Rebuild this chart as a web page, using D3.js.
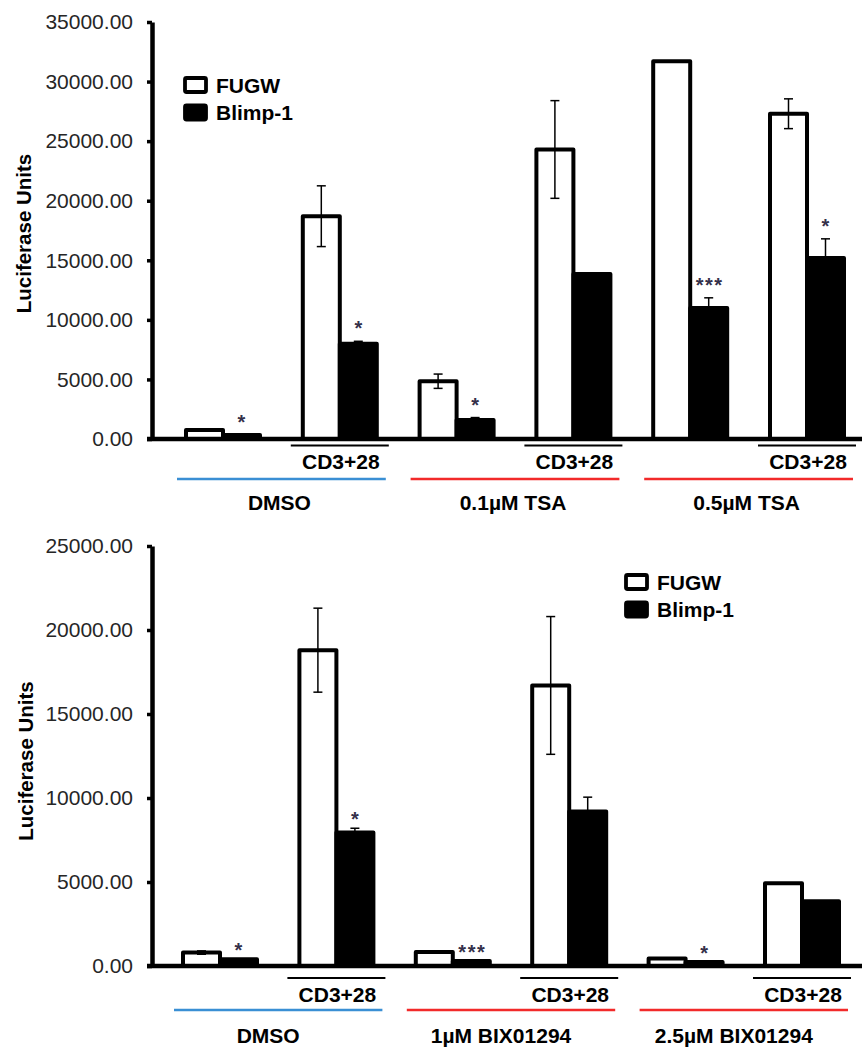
<!DOCTYPE html>
<html>
<head>
<meta charset="utf-8">
<script src="https://cdn.jsdelivr.net/npm/d3@7"></script>
<style>
  html, body { margin: 0; padding: 0; background: #fff; }
  svg { display: block; }
  text { font-family: "Liberation Sans", Arial, sans-serif; }
</style>
</head>
<body>
<svg id="chart" width="862" height="1051"></svg>
<script>
// ---------------- DATA ----------------
const seriesNames = ["FUGW", "Blimp-1"];
const stimLabel = "CD3+28";
const yTitle = "Luciferase Units";

// Top panel (TSA)
const topPairs = ["DMSO", "DMSO CD3+28", "0.1µM TSA", "0.1µM TSA CD3+28", "0.5µM TSA", "0.5µM TSA CD3+28"];
const topFUGW = [750, 18700, 4850, 24300, 31700, 27300];
const topFUGWErr = [0, 2550, 600, 4100, 0, 1250];
const topBlimp = [330, 8000, 1600, 13850, 11000, 15200];
const topBlimpErr = [0, 200, 200, 0, 850, 1600];
const topSig = ["*", "*", "*", "", "***", "*"];
const topTreatments = ["DMSO", "0.1µM TSA", "0.5µM TSA"];
const topTicks = [0, 5000, 10000, 15000, 20000, 25000, 30000, 35000];

// Bottom panel (BIX01294)
const bottomPairs = ["DMSO", "DMSO CD3+28", "1µM BIX01294", "1µM BIX01294 CD3+28", "2.5µM BIX01294", "2.5µM BIX01294 CD3+28"];
const bottomFUGW = [800, 18800, 840, 16700, 440, 4930];
const bottomFUGWErr = [100, 2500, 0, 4100, 0, 0];
const bottomBlimp = [400, 7950, 300, 9200, 240, 3850];
const bottomBlimpErr = [0, 250, 0, 850, 0, 0];
const bottomSig = ["*", "*", "***", "", "*", ""];
const bottomTreatments = ["DMSO", "1µM BIX01294", "2.5µM BIX01294"];
const bottomTicks = [0, 5000, 10000, 15000, 20000, 25000];

const treatmentColors = ["#3a8fd4", "#f22a2a", "#f22a2a"];

// ---------------- DRAW ----------------
const svg = d3.select("#chart");
const FONT = 21;

function drawPanel(cfg) {
  const g = svg.append("g");
  const x = d3.scalePoint().domain(cfg.pairs).range(cfg.xRange);
  const y = d3.scaleLinear().domain([0, cfg.yMax]).range(cfg.yRange);
  const bw = 37;

  // y axis
  const axis = d3.axisLeft(y).tickValues(cfg.ticks).tickFormat(d3.format(".2f"))
    .tickSizeInner(5).tickSizeOuter(0).tickPadding(14);
  const ag = g.append("g").attr("transform", `translate(${cfg.axisX},0)`).call(axis);
  ag.select(".domain").attr("stroke", "#000").attr("stroke-width", 4.5);
  ag.selectAll(".tick line").attr("stroke", "#000").attr("stroke-width", 3.5);
  ag.selectAll(".tick text").attr("font-size", FONT).attr("fill", "#262626")
    .style("font-family", '"Liberation Sans", Arial, sans-serif');

  // FUGW bars
  g.selectAll("rect.fugw").data(cfg.pairs).join("rect")
    .attr("x", d => x(d) - bw).attr("width", bw)
    .attr("y", (d, i) => y(cfg.fugw[i]))
    .attr("height", (d, i) => y(0) - y(cfg.fugw[i]))
    .attr("fill", "#fff").attr("stroke", "#000").attr("stroke-width", 4)
    .attr("stroke-linejoin", "round");
  // Blimp bars
  g.selectAll("rect.blimp").data(cfg.pairs).join("rect")
    .attr("x", d => x(d)).attr("width", bw)
    .attr("y", (d, i) => y(cfg.blimp[i]))
    .attr("height", (d, i) => y(0) - y(cfg.blimp[i]))
    .attr("fill", "#000").attr("stroke", "#000").attr("stroke-width", 4)
    .attr("stroke-linejoin", "round");

  // error bars
  function errBars(vals, errs, cx) {
    const data = cfg.pairs.map((p, i) => ({ p, v: vals[i], e: errs[i] })).filter(d => d.e > 0);
    const eg = g.append("g").attr("stroke", "#000").attr("stroke-width", 1.5).attr("fill", "none");
    eg.selectAll("line.v").data(data).join("line")
      .attr("x1", d => cx(d.p)).attr("x2", d => cx(d.p))
      .attr("y1", d => y(d.v + d.e)).attr("y2", d => y(Math.max(0, d.v - d.e)));
    eg.selectAll("line.t").data(data).join("line")
      .attr("x1", d => cx(d.p) - 4.5).attr("x2", d => cx(d.p) + 4.5)
      .attr("y1", d => y(d.v + d.e)).attr("y2", d => y(d.v + d.e));
    eg.selectAll("line.b").data(data).join("line")
      .attr("x1", d => cx(d.p) - 4.5).attr("x2", d => cx(d.p) + 4.5)
      .attr("y1", d => y(Math.max(0, d.v - d.e))).attr("y2", d => y(Math.max(0, d.v - d.e)));
  }
  errBars(cfg.fugw, cfg.fugwErr, p => x(p) - bw / 2);
  errBars(cfg.blimp, cfg.blimpErr, p => x(p) + bw / 2);

  // significance
  g.selectAll("text.sig").data(cfg.pairs).join("text")
    .attr("x", (d, i) => x(d) + bw / 2 + (cfg.sig[i].length > 1 ? 1 : 0))
    .attr("y", (d, i) => y(cfg.blimp[i] + cfg.blimpErr[i]) - cfg.sigGap)
    .attr("text-anchor", "middle").attr("font-size", 20).attr("font-weight", "bold")
    .attr("fill", "#34304a")
    .attr("letter-spacing", (d, i) => cfg.sig[i].length > 1 ? 1.5 : 0)
    .text((d, i) => cfg.sig[i]);

  // baseline
  g.append("line").attr("x1", cfg.axisX - 5).attr("x2", 862)
    .attr("y1", y(0)).attr("y2", y(0)).attr("stroke", "#000").attr("stroke-width", 4.5);

  // CD3+28 underlines and labels (odd pairs are stimulated)
  const stim = cfg.pairs.filter((d, i) => i % 2 === 1);
  g.selectAll("line.stim").data(stim).join("line")
    .attr("x1", d => x(d) - 49).attr("x2", d => x(d) + 49)
    .attr("y1", cfg.underY).attr("y2", cfg.underY)
    .attr("stroke", "#000").attr("stroke-width", 2);
  g.selectAll("text.stim").data(stim).join("text")
    .attr("x", d => x(d) + 1).attr("y", cfg.stimY)
    .attr("text-anchor", "middle").attr("dominant-baseline", "central")
    .attr("font-size", FONT).attr("font-weight", "bold").attr("fill", "#000")
    .text(stimLabel);

  // treatment lines + labels
  const tr = cfg.treatments.map((t, k) => ({ t, a: cfg.pairs[2 * k], b: cfg.pairs[2 * k + 1], c: treatmentColors[k] }));
  g.selectAll("line.treat").data(tr).join("line")
    .attr("x1", d => x(d.a) - 46).attr("x2", d => x(d.b) + 46)
    .attr("y1", cfg.treatLineY).attr("y2", cfg.treatLineY)
    .attr("stroke", d => d.c).attr("stroke-width", 2.5);
  g.selectAll("text.treat").data(tr).join("text")
    .attr("x", d => (x(d.a) + x(d.b)) / 2 + cfg.labelShift).attr("y", cfg.treatLabelY)
    .attr("text-anchor", "middle").attr("dominant-baseline", "central")
    .attr("font-size", FONT).attr("font-weight", "bold").attr("fill", "#000")
    .text(d => d.t);

  // y title
  g.append("text")
    .attr("transform", `translate(${cfg.titleX},${(cfg.yRange[0] + cfg.yRange[1]) / 2 + cfg.titleShift}) rotate(-90)`)
    .attr("text-anchor", "middle").attr("font-size", 20.5).attr("font-weight", "bold")
    .text(yTitle);

  // legend
  const lg = g.append("g").attr("transform", `translate(${cfg.legend[0]},${cfg.legend[1]})`);
  lg.selectAll("rect").data(seriesNames).join("rect")
    .attr("x", 2).attr("y", (d, i) => i * 27.5 + 2).attr("width", 21).attr("height", 14)
    .attr("rx", 1.5)
    .attr("fill", (d, i) => i === 0 ? "#fff" : "#000").attr("stroke", "#000").attr("stroke-width", 3.8);
  lg.selectAll("text").data(seriesNames).join("text")
    .attr("x", 33).attr("y", (d, i) => i * 27.5 + 9).attr("dominant-baseline", "central")
    .attr("font-size", FONT).attr("font-weight", "bold").text(d => d);
}

drawPanel({
  pairs: topPairs, fugw: topFUGW, fugwErr: topFUGWErr, blimp: topBlimp, blimpErr: topBlimpErr,
  sig: topSig, treatments: topTreatments, ticks: topTicks, yMax: 35000,
  xRange: [223, 807], yRange: [439, 22], axisX: 152,
  underY: 445.5, stimY: 461, treatLineY: 479, treatLabelY: 502, labelShift: -2,
  sigGap: 6, titleX: 31, titleShift: 3, legend: [183, 76]
});

drawPanel({
  pairs: bottomPairs, fugw: bottomFUGW, fugwErr: bottomFUGWErr, blimp: bottomBlimp, blimpErr: bottomBlimpErr,
  sig: bottomSig, treatments: bottomTreatments, ticks: bottomTicks, yMax: 25000,
  xRange: [220, 802], yRange: [966, 546], axisX: 152,
  underY: 978, stimY: 994, treatLineY: 1010, treatLabelY: 1035, labelShift: -10,
  sigGap: 2, titleX: 33, titleShift: 5, legend: [624, 573]
});
</script>
</body>
</html>
